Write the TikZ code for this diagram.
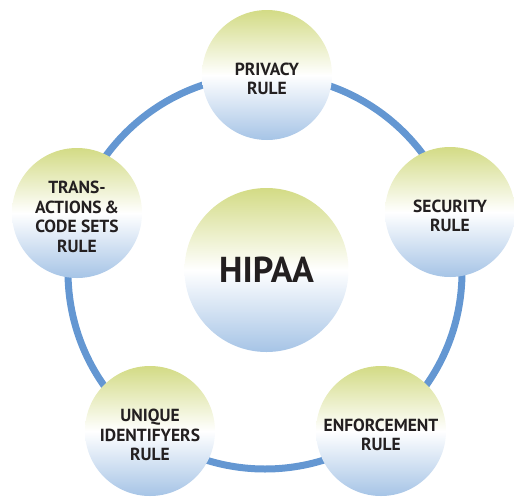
\documentclass[tikz,border=0pt]{standalone}
\usepackage{fontspec}
\setmainfont{PT Sans}
\definecolor{topgreen}{RGB}{211,219,133}
\definecolor{bottomblue}{RGB}{166,196,230}
\definecolor{ringblue}{RGB}{100,151,210}
\definecolor{labeltext}{RGB}{35,31,32}
\begin{document}
\begin{tikzpicture}[x=1pt,y=-1pt,
  rulecircle/.style={circle, inner sep=0pt, minimum size=130pt,
    top color=topgreen, bottom color=bottomblue, middle color=white},
  rulelabel/.style={align=center, text=labeltext, inner sep=0pt,
    yshift=-4pt, font=\bfseries\fontsize{17.5}{19.5}\selectfont},
  hub/.style={rulecircle, minimum size=164pt, text depth=0pt,
    text=labeltext, font=\bfseries\fontsize{36}{40}\selectfont},
  ring/.style={draw=ringblue, line width=7pt}]
  \useasboundingbox (0,0) rectangle (514,496);
  % the ring joining the five rules
  \coordinate (ctr) at (265,272);
  \draw[ring] (ctr) circle[radius=197];
  % central topic
  \node[hub] (hipaa) at (266.5,270) {HIPAA};
  % rules placed around the ring
  \node[rulecircle, label={[rulelabel]center:PRIVACY\\RULE}] (privacy) at (267,75) {};
  \node[rulecircle, label={[rulelabel]center:SECURITY\\RULE}] (security) at (450,212) {};
  \node[rulecircle, label={[rulelabel]center:ENFORCEMENT\\RULE}] (enforce) at (381,431) {};
  \node[rulecircle, label={[rulelabel]center:UNIQUE\\IDENTIFYERS\\RULE}] (unique) at (150,431) {};
  \node[rulecircle, label={[rulelabel]center:TRANS-\\ACTIONS\,\&\\CODE SETS\\RULE}] (trans) at (77,213) {};
\end{tikzpicture}
\end{document}
